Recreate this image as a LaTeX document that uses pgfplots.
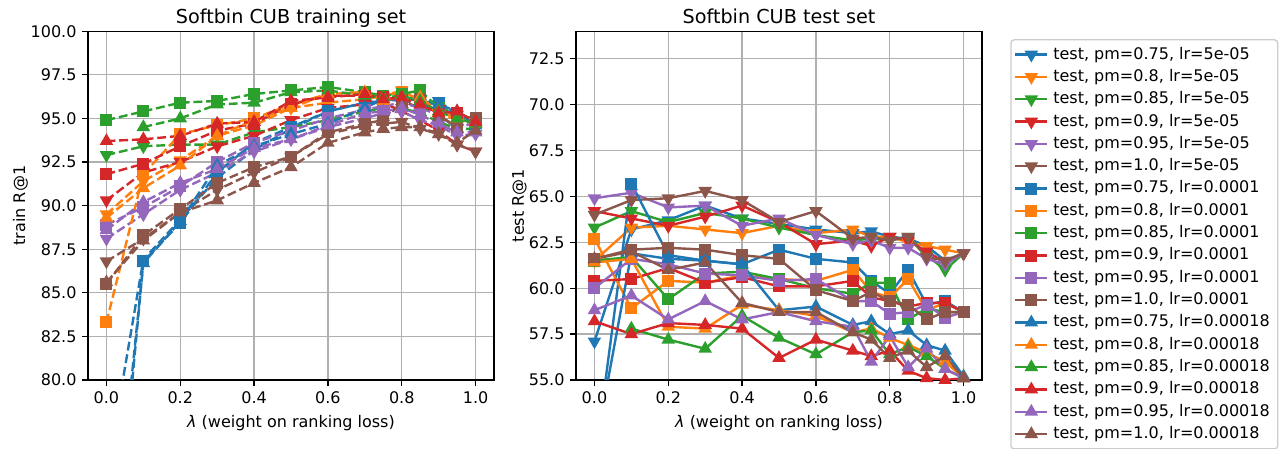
\documentclass[border=0pt]{standalone}
\usepackage{fontspec}
\setmainfont{DejaVu Sans}
\usepackage{pgfplots}
\usepackage{pgfplotstable}
\pgfplotsset{compat=1.18}
\definecolor{C0}{HTML}{1F77B4}
\definecolor{C1}{HTML}{FF7F0E}
\definecolor{C2}{HTML}{2CA02C}
\definecolor{C3}{HTML}{D62728}
\definecolor{C4}{HTML}{9467BD}
\definecolor{C5}{HTML}{8C564B}
\definecolor{gridgray}{HTML}{B0B0B0}
\definecolor{leggray}{HTML}{CCCCCC}

\pgfplotstableread{
x    Bv   Ov   Gv   Rv   Pv   Nv   Bs   Os   Gs   Rs   Ps   Ns   Bt   Ot   Gt   Rt   Pt   Nt
0.00 74.5 89.5 92.9 90.3 88.1 86.8 64.0 83.3 94.9 91.8 88.9 85.5 66.0 89.3 nan  93.7 88.6 85.6
0.10 86.9 91.4 93.4 91.9 89.5 88.1 86.8 91.8 95.4 92.4 89.9 88.3 86.7 91.0 94.5 93.8 90.2 88.0
0.20 89.2 92.6 93.5 92.5 90.9 89.6 89.0 94.1 95.9 93.4 91.1 89.8 89.1 92.3 95.0 94.0 91.3 89.6
0.30 91.6 94.0 93.5 93.4 91.9 90.9 91.9 94.6 96.0 94.3 92.5 91.3 92.3 94.0 95.8 94.7 92.1 90.3
0.40 93.2 94.6 94.2 94.0 93.1 91.9 93.6 95.0 96.4 94.7 93.6 92.2 93.4 94.9 95.9 94.8 93.3 91.3
0.50 94.4 95.6 94.5 94.9 93.8 92.8 94.5 95.8 96.6 95.8 94.3 92.8 94.1 95.6 96.5 96.0 93.8 92.2
0.60 95.4 95.9 94.9 95.6 94.5 94.1 95.4 96.4 96.8 96.3 95.0 94.2 94.7 96.4 96.6 96.2 94.6 93.6
0.70 95.9 96.1 95.4 95.8 95.0 94.6 95.9 96.5 96.5 96.3 95.5 94.7 95.6 96.5 96.3 96.4 95.3 94.2
0.75 96.1 96.3 95.6 95.9 95.3 94.7 96.0 96.3 96.3 96.2 95.7 94.9 96.1 96.0 96.2 96.1 95.4 94.4
0.80 96.0 96.6 95.6 95.4 95.4 94.8 96.2 96.5 96.4 96.0 95.9 95.9 96.3 96.3 96.3 96.2 95.6 94.5
0.85 95.9 96.0 95.3 94.9 94.9 94.4 96.0 96.1 96.6 95.6 95.6 96.1 95.9 96.2 96.0 95.8 95.2 94.5
0.90 96.0 95.3 94.8 94.3 94.6 94.1 95.8 95.5 95.6 95.4 95.2 95.2 95.8 95.4 95.4 95.3 94.7 94.1
0.95 95.2 94.9 94.4 93.5 94.0 93.5 95.0 95.1 95.3 95.3 94.4 94.5 95.4 95.0 95.0 95.4 94.2 93.6
1.00 94.9 94.8 94.4 93.1 94.1 93.1 94.8 94.9 94.9 94.8 94.8 95.0 94.6 94.7 94.7 94.8 94.2 94.3
}\train

\pgfplotstableread{
x    Bv   Ov   Gv   Rv   Pv   Nv   Bs   Os   Gs   Rs   Ps   Ns   Bt   Ot   Gt   Rt   Pt   Nt
0.00 57.1 61.5 63.3 64.2 64.9 64.0 50.4 62.7 61.5 60.4 60.0 61.6 51.0 61.4 nan  58.2 58.8 61.6
0.10 63.2 63.3 64.2 63.8 65.2 64.8 65.7 58.9 61.7 60.5 61.6 62.1 61.9 61.6 57.8 57.5 59.6 62.0
0.20 63.7 63.4 63.6 63.4 64.4 64.9 61.8 60.4 59.4 61.1 61.3 62.2 61.6 57.9 57.2 58.1 58.3 61.0
0.30 64.5 63.2 64.1 63.9 64.5 65.3 61.5 60.3 60.8 60.3 60.8 62.1 61.5 57.8 56.7 58.0 59.3 61.4
0.40 63.8 63.0 63.8 64.5 63.4 64.8 61.3 60.7 60.9 60.6 60.7 61.8 61.3 59.1 58.5 57.8 58.3 59.2
0.50 63.5 63.4 63.3 63.6 63.8 63.6 62.1 60.5 60.5 60.1 60.4 61.6 58.8 58.8 57.3 56.2 58.7 58.7
0.60 63.2 63.0 62.9 62.4 62.9 64.2 61.6 60.4 60.0 60.1 60.5 59.9 59.0 58.5 56.4 57.2 58.2 58.7
0.70 63.0 63.2 62.6 62.6 62.4 62.7 61.4 61.0 59.7 60.4 59.3 59.3 58.0 57.6 57.6 56.6 57.9 57.6
0.75 63.1 62.8 62.7 62.3 62.6 62.8 60.4 59.8 60.3 59.5 59.3 59.8 58.2 57.8 57.7 56.3 56.0 57.2
0.80 62.8 62.8 62.6 62.8 62.2 62.6 59.7 59.5 60.3 59.3 58.6 59.3 57.5 57.3 56.4 56.6 57.4 56.2
0.85 62.7 62.5 62.8 62.6 62.2 62.8 61.0 60.5 58.3 59.0 58.7 59.1 57.7 56.9 56.8 55.5 55.7 56.6
0.90 62.3 62.3 61.8 62.0 61.6 61.7 59.1 58.8 58.9 59.2 59.1 58.3 56.9 56.5 56.3 55.1 56.7 55.7
0.95 61.5 62.1 61.0 61.4 61.3 61.5 59.3 59.2 58.7 59.2 58.4 58.7 56.6 56.0 55.6 55.0 55.6 56.3
1.00 61.9 61.9 61.9 61.9 61.9 61.9 58.7 58.7 58.7 58.7 58.7 58.7 55.2 55.1 55.1 55.1 55.1 55.1
}\test

\pgfplotsset{
  mpl/.style={
    scale only axis, width=253.75pt, height=218pt,
    xmin=-0.05, xmax=1.05,
    xtick={0,0.2,0.4,0.6,0.8,1.0},
    grid=major,
    major grid style={color=gridgray, line width=0.8pt},
    axis line style={line width=0.8pt},
    tick align=outside, major tick length=3.5pt,
    every tick/.style={black, line width=0.8pt},
    xtick pos=bottom, ytick pos=left,
    /pgf/number format/assume math mode=true,
    /pgf/number format/fixed,
    /pgf/number format/fixed zerofill,
    /pgf/number format/precision=1,
    xticklabel style={anchor=north, inner sep=0pt, yshift=-3.5pt, font=\fontsize{10}{12}\selectfont},
    yticklabel style={anchor=east, inner sep=0pt, xshift=-3.5pt, font=\fontsize{10}{12}\selectfont},
    title style={at={(axis description cs:0.5,1.0257)}, anchor=base, inner sep=0pt, yshift=-6.5pt, font=\fontsize{12}{14}\selectfont},
    xlabel style={at={(axis description cs:0.5,-0.128)}, anchor=base, inner sep=0pt, yshift=-1.5pt, font=\fontsize{10}{12}\selectfont},
    ylabel style={anchor=base, inner sep=0pt, rotate=0, font=\fontsize{10}{12}\selectfont},
    legend image code/.code={\draw[mark repeat=2, mark phase=2] plot coordinates {(0pt,0pt) (10pt,0pt) (20pt,0pt)};},
  },
  sv/.style={color=#1, line width=1.5pt, mark=triangle*, mark size=3.4pt, mark options={solid, rotate=180, fill=#1}},
  ss/.style={color=#1, line width=1.5pt, mark=square*, mark size=3pt, mark options={solid, fill=#1}},
  st/.style={color=#1, line width=1.5pt, mark=triangle*, mark size=3.4pt, mark options={solid, fill=#1}},
  dsh/.style={dash pattern=on 5.55pt off 2.4pt},
}

\begin{document}
\begin{tikzpicture}
\path[use as bounding box] (-55pt,-43.1pt) rectangle (750pt,237.5pt);
\begin{axis}[mpl, at={(0pt,0pt)}, anchor=south west,
  ymin=80, ymax=100, ytick={80,82.5,85,87.5,90,92.5,95,97.5,100},
  title={Softbin CUB training set},
  xlabel={\textit{λ} (weight on ranking loss)},
  ylabel={train R@1},
  ylabel style={at={(axis description cs:-0.155,0.5)}},
]
\addplot[sv=C0, dsh] table[x=x, y=Bv] {\train};
\addplot[sv=C1, dsh] table[x=x, y=Ov] {\train};
\addplot[sv=C2, dsh] table[x=x, y=Gv] {\train};
\addplot[sv=C3, dsh] table[x=x, y=Rv] {\train};
\addplot[sv=C4, dsh] table[x=x, y=Pv] {\train};
\addplot[sv=C5, dsh] table[x=x, y=Nv] {\train};
\addplot[ss=C0, dsh] table[x=x, y=Bs] {\train};
\addplot[ss=C1, dsh] table[x=x, y=Os] {\train};
\addplot[ss=C2, dsh] table[x=x, y=Gs] {\train};
\addplot[ss=C3, dsh] table[x=x, y=Rs] {\train};
\addplot[ss=C4, dsh] table[x=x, y=Ps] {\train};
\addplot[ss=C5, dsh] table[x=x, y=Ns] {\train};
\addplot[st=C0, dsh] table[x=x, y=Bt] {\train};
\addplot[st=C1, dsh] table[x=x, y=Ot] {\train};
\addplot[st=C2, dsh] table[x=x, y=Gt] {\train};
\addplot[st=C3, dsh] table[x=x, y=Rt] {\train};
\addplot[st=C4, dsh] table[x=x, y=Pt] {\train};
\addplot[st=C5, dsh] table[x=x, y=Nt] {\train};
\end{axis}
\begin{axis}[mpl, at={(305pt,0pt)}, anchor=south west,
  ymin=55, ymax=74, ytick={55,57.5,60,62.5,65,67.5,70,72.5},
  title={Softbin CUB test set},
  xlabel={\textit{λ} (weight on ranking loss)},
  ylabel={test R@1},
  ylabel style={at={(axis description cs:-0.1285,0.5)}},
  legend style={at={(1.05,1)}, anchor=north west, xshift=5pt, yshift=-5pt,
    draw=leggray, line width=0.8pt, rounded corners=2pt, fill=white,
    font=\fontsize{10}{12}\selectfont, cells={anchor=west},
    row sep=2.45pt, inner xsep=2pt, inner ysep=3.5pt,
    nodes={inner ysep=1pt, inner xsep=3pt, text height=7.5pt, text depth=2pt}},
]
\addplot[sv=C0] table[x=x, y=Bv] {\test}; \addlegendentry{test, pm=0.75, lr=5e-05}
\addplot[sv=C1] table[x=x, y=Ov] {\test}; \addlegendentry{test, pm=0.8, lr=5e-05}
\addplot[sv=C2] table[x=x, y=Gv] {\test}; \addlegendentry{test, pm=0.85, lr=5e-05}
\addplot[sv=C3] table[x=x, y=Rv] {\test}; \addlegendentry{test, pm=0.9, lr=5e-05}
\addplot[sv=C4] table[x=x, y=Pv] {\test}; \addlegendentry{test, pm=0.95, lr=5e-05}
\addplot[sv=C5] table[x=x, y=Nv] {\test}; \addlegendentry{test, pm=1.0, lr=5e-05}
\addplot[ss=C0] table[x=x, y=Bs] {\test}; \addlegendentry{test, pm=0.75, lr=0.0001}
\addplot[ss=C1] table[x=x, y=Os] {\test}; \addlegendentry{test, pm=0.8, lr=0.0001}
\addplot[ss=C2] table[x=x, y=Gs] {\test}; \addlegendentry{test, pm=0.85, lr=0.0001}
\addplot[ss=C3] table[x=x, y=Rs] {\test}; \addlegendentry{test, pm=0.9, lr=0.0001}
\addplot[ss=C4] table[x=x, y=Ps] {\test}; \addlegendentry{test, pm=0.95, lr=0.0001}
\addplot[ss=C5] table[x=x, y=Ns] {\test}; \addlegendentry{test, pm=1.0, lr=0.0001}
\addplot[st=C0] table[x=x, y=Bt] {\test}; \addlegendentry{test, pm=0.75, lr=0.00018}
\addplot[st=C1] table[x=x, y=Ot] {\test}; \addlegendentry{test, pm=0.8, lr=0.00018}
\addplot[st=C2] table[x=x, y=Gt] {\test}; \addlegendentry{test, pm=0.85, lr=0.00018}
\addplot[st=C3] table[x=x, y=Rt] {\test}; \addlegendentry{test, pm=0.9, lr=0.00018}
\addplot[st=C4] table[x=x, y=Pt] {\test}; \addlegendentry{test, pm=0.95, lr=0.00018}
\addplot[st=C5] table[x=x, y=Nt] {\test}; \addlegendentry{test, pm=1.0, lr=0.00018}
\end{axis}
\end{tikzpicture}
\end{document}
